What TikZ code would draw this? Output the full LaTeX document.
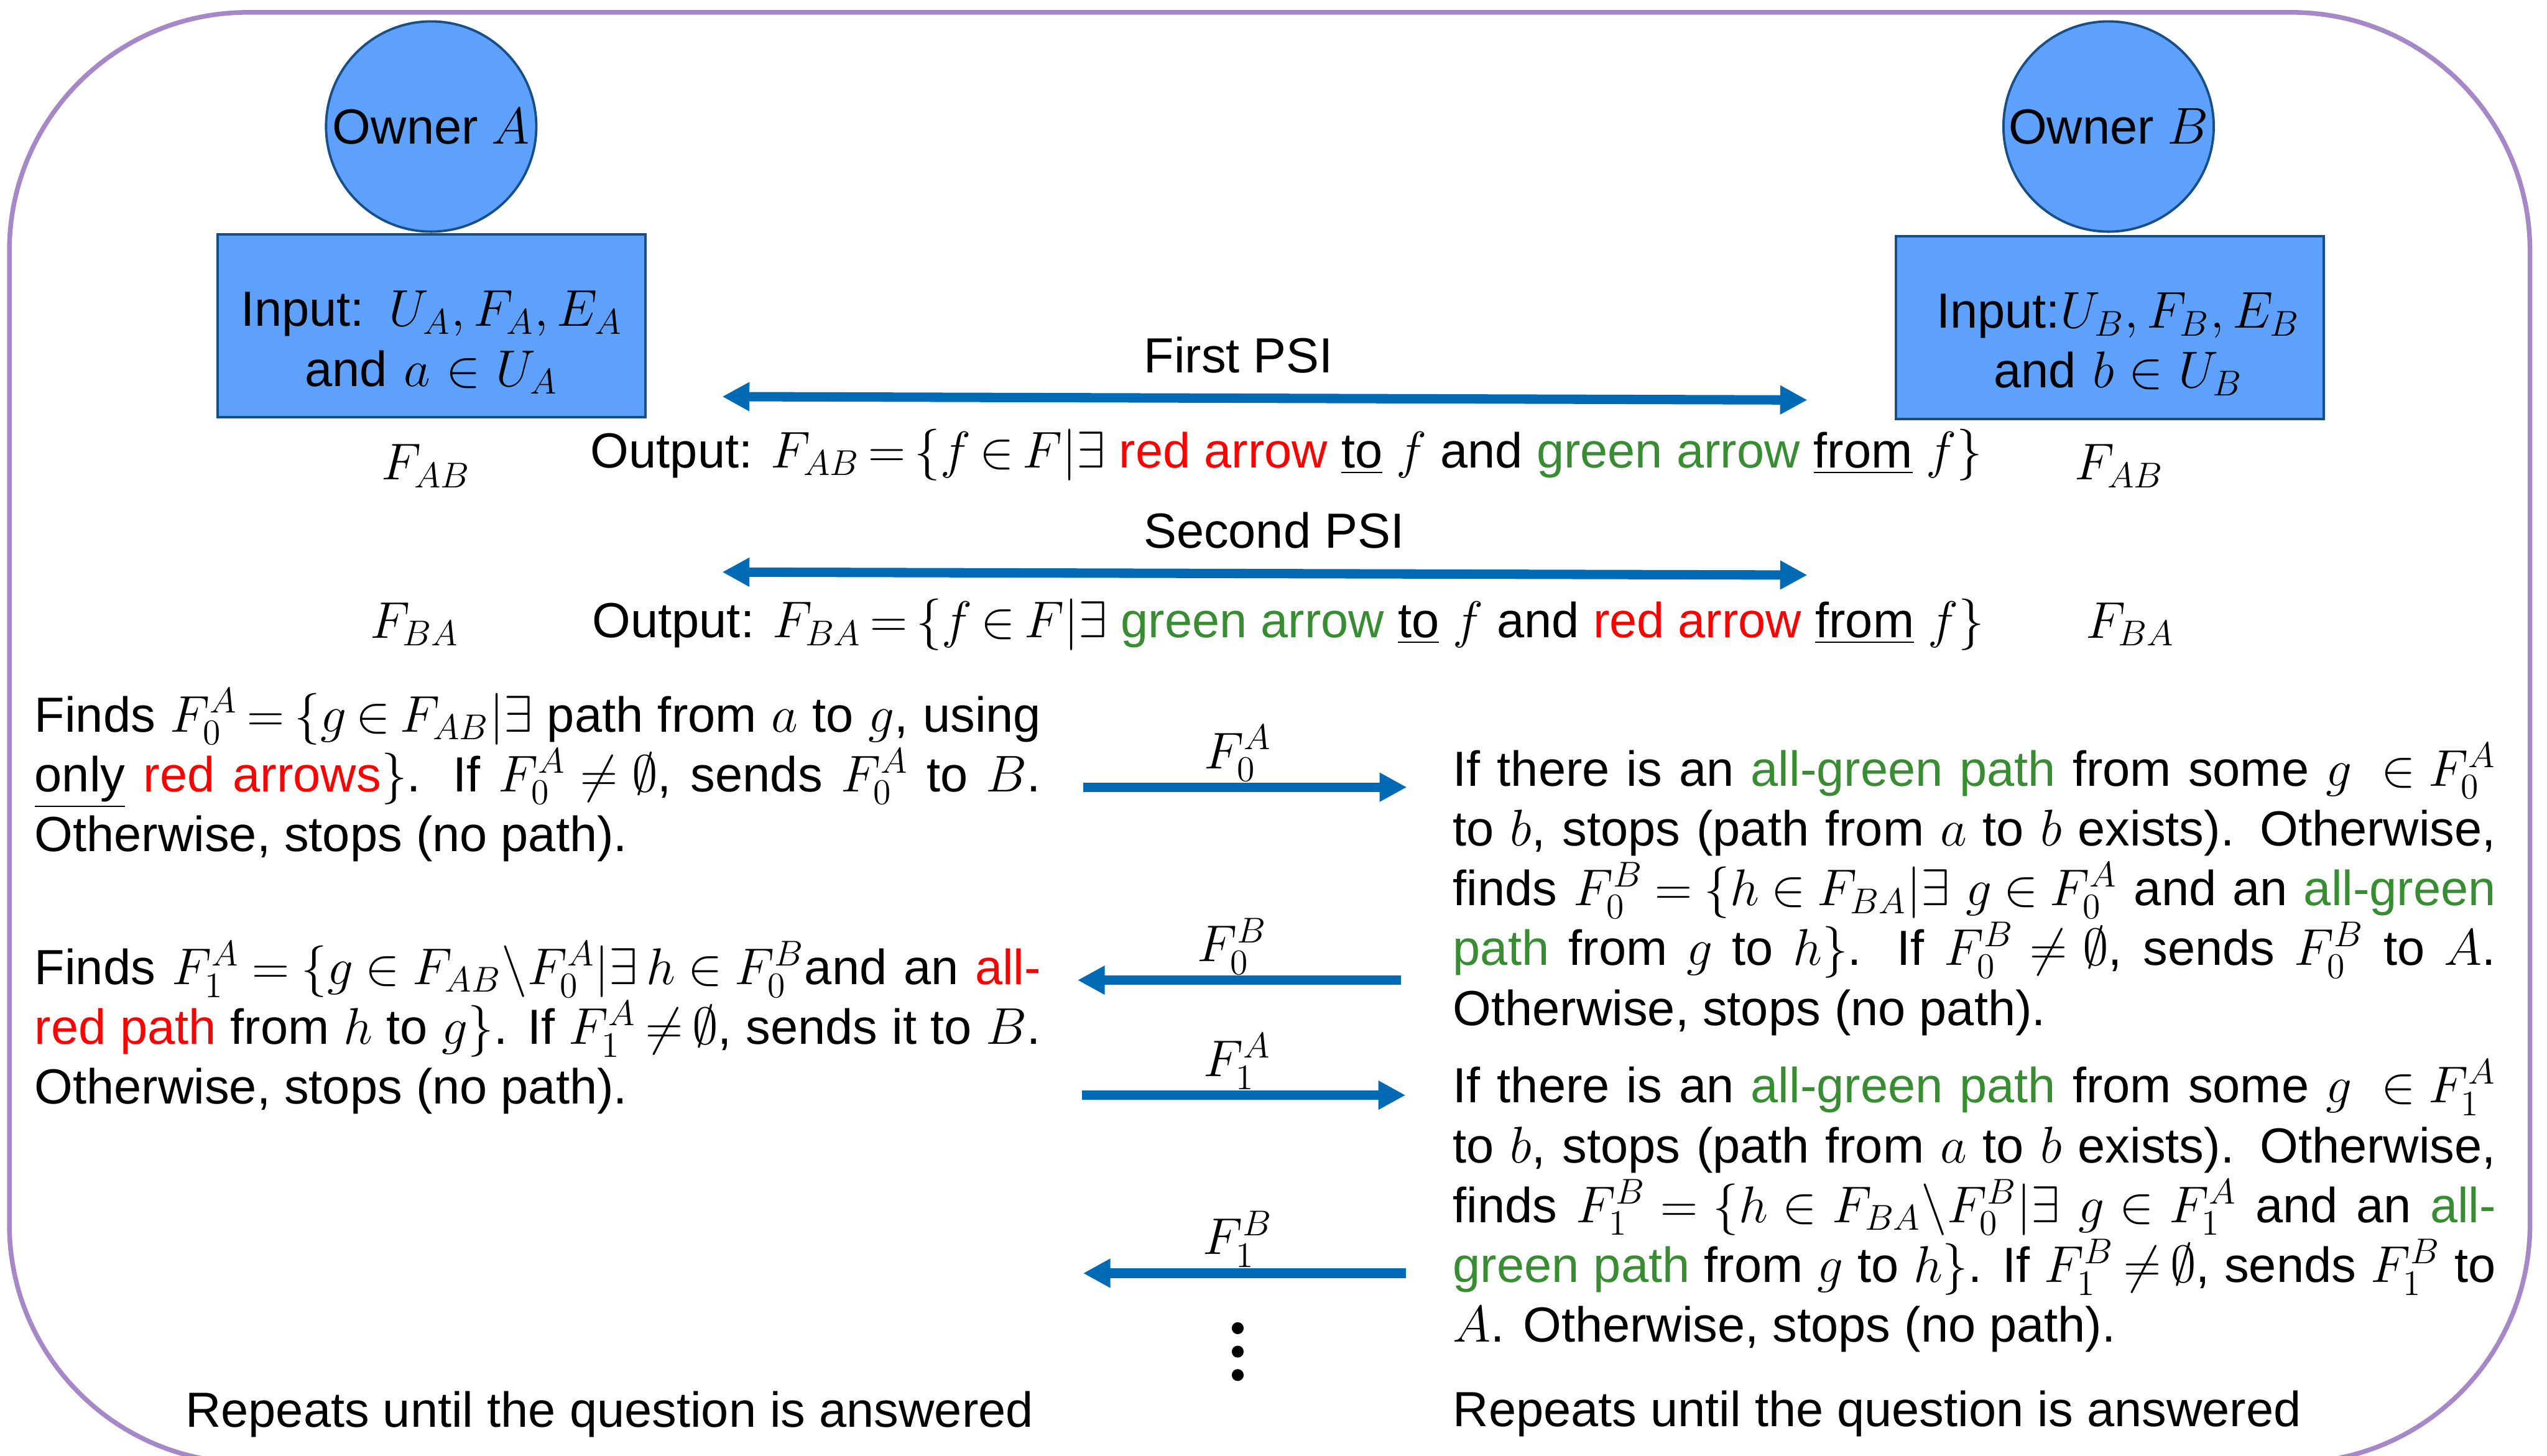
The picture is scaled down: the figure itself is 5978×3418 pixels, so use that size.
\documentclass[tikz,border=0pt]{standalone}
\usepackage[no-math]{fontspec}
\setmainfont{Liberation Sans}
\usepackage{xcolor}
\usepackage{tikz}
\usetikzlibrary{arrows.meta}

\definecolor{frameviolet}{RGB}{166,136,200}
\definecolor{ownerblue}{RGB}{93,161,252}
\definecolor{ownerline}{RGB}{24,79,134}
\definecolor{psiblue}{RGB}{0,106,180}
\definecolor{pathred}{RGB}{255,0,0}
\definecolor{pathgreen}{RGB}{56,140,50}
\setlength{\lineskiplimit}{-\maxdimen}
\thickmuskip=3mu plus 3mu
\medmuskip=2.5mu plus 2mu minus 2.5mu

\begin{document}
\begin{tikzpicture}[x=0.005cm, y=-0.005cm,
    every node/.style={font=\fontsize{16.5}{20}\selectfont, inner sep=0pt},
    frame/.style={draw=frameviolet, line width=0.055cm, rounded corners=2.8cm},
    owner/.style={circle, draw=ownerline, fill=ownerblue, line width=0.8pt, minimum size=2.47cm},
    inputbox/.style={rectangle, draw=ownerline, fill=ownerblue, line width=0.8pt, minimum width=5.03cm, minimum height=2.145cm, text width=4.8cm, align=center, text height=0.87cm, text depth=0.86cm},
    psi/.style={{Triangle[length=0.32cm, width=0.32cm]}-{Triangle[length=0.32cm, width=0.32cm]}, color=psiblue, line width=0.11cm},
    send/.style={-{Triangle[length=0.32cm, width=0.32cm]}, color=psiblue, line width=0.11cm},
    sendlabel/.style={midway, anchor=base, yshift=0.22cm, xshift=-0.08cm},
    steptext/.style={anchor=base west, align=justify, execute at begin node={\tolerance=9999\hyphenpenalty=10000\exhyphenpenalty=10000}}
]
    \useasboundingbox (0,0) rectangle (5978,3418);
    \draw[frame] (22,29) rectangle (5938,3434);

    % Owners
    \node[owner] (ownerA) at (1012,297) {Owner $A$};
    \node[owner] (ownerB) at (4949,297) {Owner $B$};
    \node[inputbox] (inA) at (1013,765) {Input: $U_A, F_A, E_A$\\ and $a \in U_A$};
    \node[inputbox] (inB) at (4952,769) {\hspace*{0.2cm}Input:$U_B, F_B, E_B$\\ \hspace*{0.2cm}and $b \in U_B$};

    % PSI rounds
    \coordinate (psiAl) at (1695,931);
    \coordinate (psiAr) at (4242,939);
    \coordinate (psiBl) at (1695,1343);
    \coordinate (psiBr) at (4242,1350);
    \node[anchor=base] (firstpsi) at (2907,875) {First PSI};
    \draw[psi] (psiAl) -- (psiAr);
    \node[anchor=base west] (outAB) at (1385,1098) {Output: $F_{AB} = \{f \in F | \exists$ \textcolor{pathred}{red arrow} \underline{to} $f$ and \textcolor{pathgreen}{green arrow} \underline{from} $f\}$};
    \node[anchor=base] (secondpsi) at (2990,1287) {Second PSI};
    \draw[psi] (psiBl) -- (psiBr);
    \node[anchor=base west] (outBA) at (1389,1497) {Output: $F_{BA} = \{f \in F | \exists$ \textcolor{pathgreen}{green arrow} \underline{to} $f$ and \textcolor{pathred}{red arrow} \underline{from} $f\}$};
    \node[anchor=base] (fabA) at (1000,1126) {$F_{AB}$};
    \node[anchor=base] (fabB) at (4974,1126) {$F_{AB}$};
    \node[anchor=base] (fbaA) at (973,1498) {$F_{BA}$};
    \node[anchor=base] (fbaB) at (5000,1498) {$F_{BA}$};

    % Owner A steps
    \node[steptext, text width=11.82cm] (stepA0) at (80,1718) {Finds $F_0^A = \{g \in F_{AB} | \exists$ path from $a$ to $g$, using\linebreak \underline{only} \textcolor{pathred}{red arrows}$\}$. If $F_0^A \neq \emptyset$, sends $F_0^A$ to $B$.\linebreak Otherwise, stops (no path).};
    \node[steptext, text width=11.82cm] (stepA1) at (80,2311) {Finds $F_1^A = \{g \in F_{AB} \backslash F_0^A | \exists\, h \in F_0^B$and an \textcolor{pathred}{all-}\linebreak \textcolor{pathred}{red path} from $h$ to $g\}$. If $F_1^A \neq \emptyset$, sends it to $B$.\linebreak Otherwise, stops (no path).};
    \node[anchor=base west] (repeatA) at (434,3350) {Repeats until the question is answered};

    % Owner B steps
    \node[steptext, text width=12.25cm] (stepB0) at (3409,1845) {If there is an \textcolor{pathgreen}{all-green path} from some $g\ \in F_0^A$\linebreak to $b$, stops (path from $a$ to $b$ exists). Otherwise,\linebreak finds $F_0^B = \{h \in F_{BA} | \exists\ g \in F_0^A$ and an \textcolor{pathgreen}{all-green}\linebreak \textcolor{pathgreen}{path} from $g$ to $h\}$. If $F_0^B \neq \emptyset$, sends $F_0^B$ to $A$.\linebreak Otherwise, stops (no path).};
    \node[steptext, text width=12.25cm] (stepB1) at (3409,2589) {If there is an \textcolor{pathgreen}{all-green path} from some $g\ \in F_1^A$\linebreak to $b$, stops (path from $a$ to $b$ exists). Otherwise,\linebreak finds $F_1^B = \{h \in F_{BA} \backslash F_0^B | \exists\ g \in F_1^A$ and an \textcolor{pathgreen}{all-}\linebreak \textcolor{pathgreen}{green path} from $g$ to $h\}$. If $F_1^B \neq \emptyset$, sends $F_1^B$ to\linebreak $A$. Otherwise, stops (no path).};
    \node[anchor=base west] (repeatB) at (3409,3348) {Repeats until the question is answered};

    % Messages
    \coordinate (sA0s) at (2542,1848);
    \coordinate (sA0e) at (3302,1848);
    \coordinate (sB0s) at (3288,2301);
    \coordinate (sB0e) at (2529,2301);
    \coordinate (sA1s) at (2540,2571);
    \coordinate (sA1e) at (3299,2571);
    \coordinate (sB1s) at (3300,2989);
    \coordinate (sB1e) at (2542,2989);
    \draw[send] (sA0s) -- node[sendlabel, black] (lA0) {$F_0^A$} (sA0e);
    \draw[send] (sB0s) -- node[sendlabel, black] (lB0) {$F_0^B$} (sB0e);
    \draw[send] (sA1s) -- node[sendlabel, black] (lA1) {$F_1^A$} (sA1e);
    \draw[send] (sB1s) -- node[sendlabel, black] (lB1) {$F_1^B$} (sB1e);
    \foreach \y in {3118,3173,3228}
        \fill (2905,\y) circle (0.07cm);
\end{tikzpicture}
\end{document}
